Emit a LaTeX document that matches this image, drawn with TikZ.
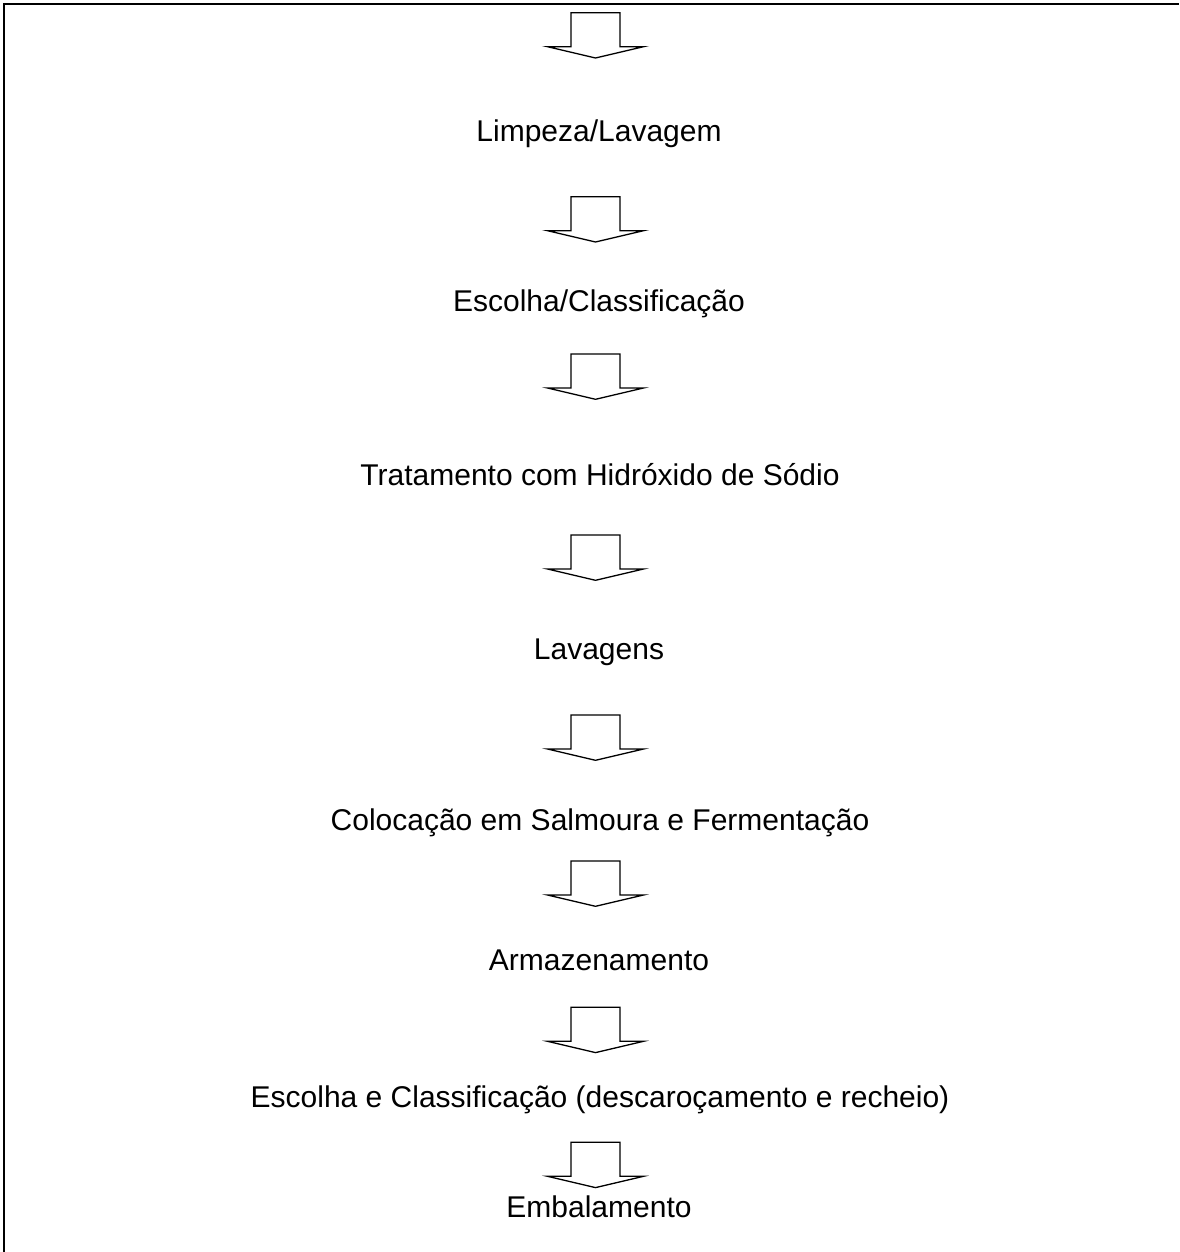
\documentclass[tikz,border=0pt]{standalone}
\usepackage{fontspec}
\setmainfont{Liberation Sans}
\begin{document}
\begin{tikzpicture}[x=1pt,y=-1pt]
\tikzset{
  lbl/.style={anchor=base, font=\fontsize{30}{36}\selectfont, inner sep=0pt, text=black},
  barrow/.style={draw=black, line width=1.3pt, line join=miter},
  frameline/.style={draw=black, line width=2pt},
  flowarrow/.pic={\draw[barrow] (-24.5,0) -- (24.5,0) -- (24.5,34) -- (48,34) -- (0,45.3) -- (-48,34) -- (-24.5,34) -- cycle;}
}
\useasboundingbox (0,0) rectangle (1179,1252);
% frame (top and left edges)
\coordinate (fl) at (4.2,1252);
\coordinate (fc) at (4.2,4.2);
\coordinate (fr) at (1179,4.2);
\draw[frameline] (fl) -- (fc) -- (fr);
% arrows
\pic (a1) at (595.5,12.7) {flowarrow};
\pic (a2) at (595.5,196.7) {flowarrow};
\pic (a3) at (595.5,354) {flowarrow};
\pic (a4) at (595.5,535) {flowarrow};
\pic (a5) at (595.5,715) {flowarrow};
\pic (a6) at (595.5,861) {flowarrow};
\pic (a7) at (595.5,1007.3) {flowarrow};
\pic (a8) at (595.5,1142.3) {flowarrow};
% labels
\node[lbl] (t1) at (599,141.2) {Limpeza/Lavagem};
\node[lbl] (t2) at (599,311) {Escolha/Classificação};
\node[lbl] (t3) at (600,485.7) {Tratamento com Hidróxido de Sódio};
\node[lbl] (t4) at (599,659.7) {Lavagens};
\node[lbl] (t5) at (600,830) {Colocação em Salmoura e Fermentação};
\node[lbl] (t6) at (599,970.2) {Armazenamento};
\node[lbl] (t7) at (600,1107.4) {Escolha e Classificação (descaroçamento e recheio)};
\node[lbl] (t8) at (599,1217.2) {Embalamento};
\end{tikzpicture}
\end{document}
